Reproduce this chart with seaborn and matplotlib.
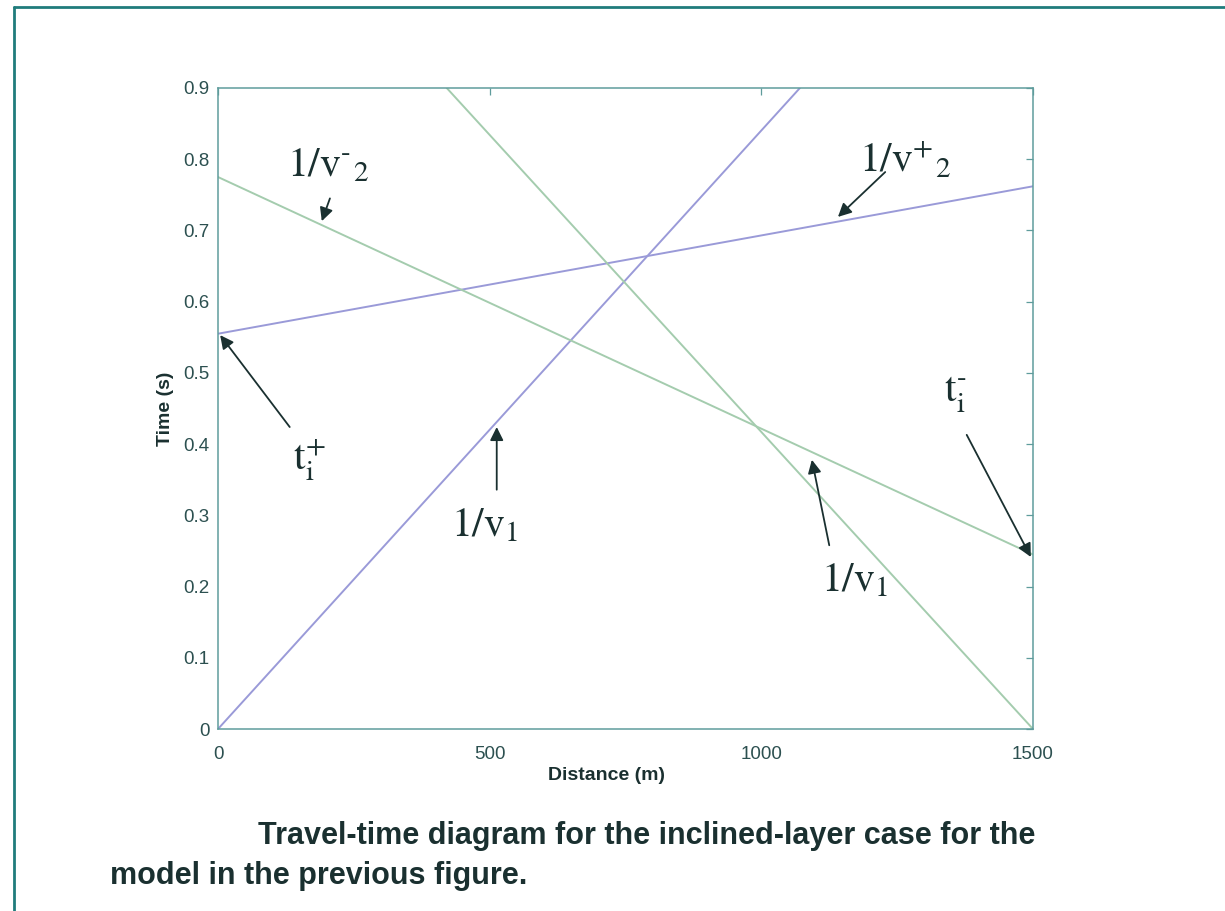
import matplotlib
matplotlib.use("Agg")
import matplotlib.pyplot as plt
import seaborn as sns
import pandas as pd
from matplotlib.lines import Line2D

# ---- data ----
dist_direct_fwd = [0, 1071]        # 1/v1 (forward shot, blue)
time_direct_fwd = [0.0, 0.9]
dist_head_fwd = [0, 1500]          # 1/v2+ (blue)
time_head_fwd = [0.555, 0.762]
dist_direct_rev = [421, 1500]      # 1/v1 (reverse shot, green)
time_direct_rev = [0.9, 0.0]
dist_head_rev = [0, 1500]          # 1/v2- (green)
time_head_rev = [0.775, 0.245]

x_ticks = [0, 500, 1000, 1500]
y_ticks = [0, 0.1, 0.2, 0.3, 0.4, 0.5, 0.6, 0.7, 0.8, 0.9]
y_tick_labels = ["0", "0.1", "0.2", "0.3", "0.4", "0.5", "0.6", "0.7", "0.8", "0.9"]

BLUE = "#9a9ad8"
GREEN = "#a4ccae"
TEXT = "#1a3030"
TICKC = "#2c5050"
SPINE = "#5f9c9c"

sns.set_theme(style="white")
plt.rcParams["font.family"] = ["Liberation Sans", "DejaVu Sans"]
plt.rcParams["mathtext.fontset"] = "stix"

fig = plt.figure(figsize=(12.25, 9.11), dpi=100)
ax = fig.add_axes([218 / 1225, 1 - 729 / 911, (1033 - 218) / 1225, (729 - 88) / 911])

for d, t, c in [(dist_direct_fwd, time_direct_fwd, BLUE),
                (dist_head_fwd, time_head_fwd, BLUE),
                (dist_direct_rev, time_direct_rev, GREEN),
                (dist_head_rev, time_head_rev, GREEN)]:
    df = pd.DataFrame({"Distance": d, "Time": t})
    sns.lineplot(data=df, x="Distance", y="Time", color=c, lw=1.4, ax=ax)

ax.set_xlim(0, 1500)
ax.set_ylim(0, 0.9)
ax.set_xticks(x_ticks)
ax.set_xticklabels([str(v) for v in x_ticks])
ax.set_yticks(y_ticks)
ax.set_yticklabels(y_tick_labels)
ax.tick_params(direction="in", length=5, width=0.9, color=SPINE, labelsize=13.5,
               labelcolor=TICKC, top=True, right=True)
ax.tick_params(axis="x", pad=12)
ax.tick_params(axis="y", pad=6)
for s in ax.spines.values():
    s.set_color(SPINE)
    s.set_linewidth(1.1)
ax.set_xlabel("Distance (m)", fontsize=14, fontweight="bold", color=TEXT)
ax.set_ylabel("Time (s)", fontsize=14, fontweight="bold", color=TEXT)
ax.xaxis.set_label_coords((607 - 218) / 815, -(775 - 729) / 641, transform=ax.transAxes)
ax.xaxis.label.set_va("center")
ax.yaxis.set_label_coords(-(218 - 165) / 815, 0.5, transform=ax.transAxes)
ax.yaxis.label.set_va("center")

arrow = dict(arrowstyle="-|>", color=TEXT, lw=1.3, mutation_scale=20,
             shrinkA=0, shrinkB=0)
fs = 30
ann = [
    (r"$\mathrm{1/v^{\text{-}}{}_{2}}$", (202, 0.792), (206, 0.745), (191, 0.713)),
    (r"$\mathrm{1/v^{+}{}_{2}}$", (1264, 0.799), (1228, 0.782), (1141, 0.719)),
    (r"$\mathrm{t_{i}^{+}}$", (169, 0.378), (132, 0.424), (4, 0.553)),
    (r"$\mathrm{1/v_{1}}$", (490, 0.286), (513, 0.336), (513, 0.424)),
    (r"$\mathrm{1/v_{1}}$", (1172, 0.209), (1125, 0.258), (1093, 0.378)),
    (r"$\mathrm{t_{i}^{\text{-}}}$", (1356, 0.469), (1378, 0.413), (1496, 0.2415)),
]
for txt, tpos, a0, a1 in ann:
    ax.text(tpos[0], tpos[1], txt, fontsize=fs, color=TEXT, ha="center", va="center")
    ax.annotate("", xy=a1, xytext=a0, arrowprops=arrow)

fig.text(258 / 1225, 1 - 836 / 911, "Travel-time diagram for the inclined-layer case for the",
         fontsize=22, fontweight="bold", color=TEXT, ha="left", va="center")
fig.text(110 / 1225, 1 - 876 / 911, "model in the previous figure.",
         fontsize=22, fontweight="bold", color=TEXT, ha="left", va="center")

# page frame (top and left edges)
fig.add_artist(Line2D([14 / 1225, 1.0], [1 - 7 / 911, 1 - 7 / 911],
                      transform=fig.transFigure, color="#207c7c", lw=2))
fig.add_artist(Line2D([14 / 1225, 14 / 1225], [0.0, 1 - 7 / 911],
                      transform=fig.transFigure, color="#207c7c", lw=2))

fig.savefig("out.png", dpi=100, facecolor="white")
